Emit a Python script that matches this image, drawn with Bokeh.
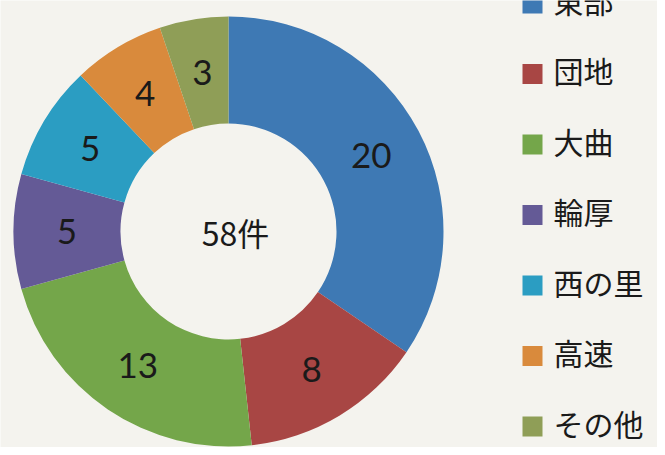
import math
from bokeh.plotting import figure
from bokeh.models import ColumnDataSource, Range1d
from bokeh.core.properties import value
from bokeh.embed import file_html
from bokeh.resources import INLINE

categories = ["東部", "団地", "大曲", "輪厚", "西の里", "高速", "その他"]
counts = [20, 8, 13, 5, 5, 4, 3]
colors = ["#3E79B4", "#A84644", "#74A64A", "#645A96", "#2B9DC2", "#D98A3C", "#8F9E57"]
center_suffix = "件"

W, H = 657, 447
cx, cy = 228, H - 231
r_in, r_out = 108, 215

total = sum(counts)
starts, ends, lx, ly = [], [], [], []
acc = 0
for c in counts:
    a0 = math.pi / 2 - acc / total * 2 * math.pi
    acc += c
    a1 = math.pi / 2 - acc / total * 2 * math.pi
    starts.append(a0)
    ends.append(a1)
    mid = (a0 + a1) / 2
    rm = (r_in + r_out) / 2
    lx.append(cx + rm * math.cos(mid))
    ly.append(cy + rm * math.sin(mid))

src = ColumnDataSource(dict(start=starts, end=ends, color=colors,
                            lx=lx, ly=ly, lab=[str(c) for c in counts],
                            cat=categories))

p = figure(width=W, height=H, output_backend="svg", toolbar_location=None,
           x_range=Range1d(0, W), y_range=Range1d(0, H), min_border=0)
p.axis.visible = False
p.grid.visible = False
p.outline_line_color = None
p.background_fill_color = "#F4F3EE"
p.border_fill_color = "#F4F3EE"

p.annular_wedge(x=cx, y=cy, inner_radius=r_in, outer_radius=r_out,
                start_angle="start", end_angle="end", direction="clock",
                fill_color="color", line_color=None, source=src)

p.text(x="lx", y="ly", text="lab", source=src, text_align="center",
       text_baseline="middle", text_font=value("Lato"),
       text_font_size="35px", text_color="#1A1A1A")

p.text(x=[cx + 7], y=[cy], text=[f"{total}{center_suffix}"],
       text_align="center", text_baseline="middle",
       text_font=value("Noto Sans CJK JP"), text_font_size="32px",
       text_color="#1A1A1A")

# legend
step = 70.5
last_y = 25
n = len(categories)
leg_y = [last_y + (n - 1 - i) * step for i in range(n)]
leg_src = ColumnDataSource(dict(y=leg_y, ys=[v - 4 for v in leg_y],
                                cat=categories, color=colors))
p.scatter(x=532, y="ys", marker="square", size=20, fill_color="color",
          line_color=None, source=leg_src)
p.text(x=553, y="y", text="cat", source=leg_src, text_align="left",
       text_baseline="middle", text_font=value("Noto Sans CJK JP"),
       text_font_size="30px", text_color="#1A1A1A")

open("out.html", "w").write(file_html(p, INLINE))
